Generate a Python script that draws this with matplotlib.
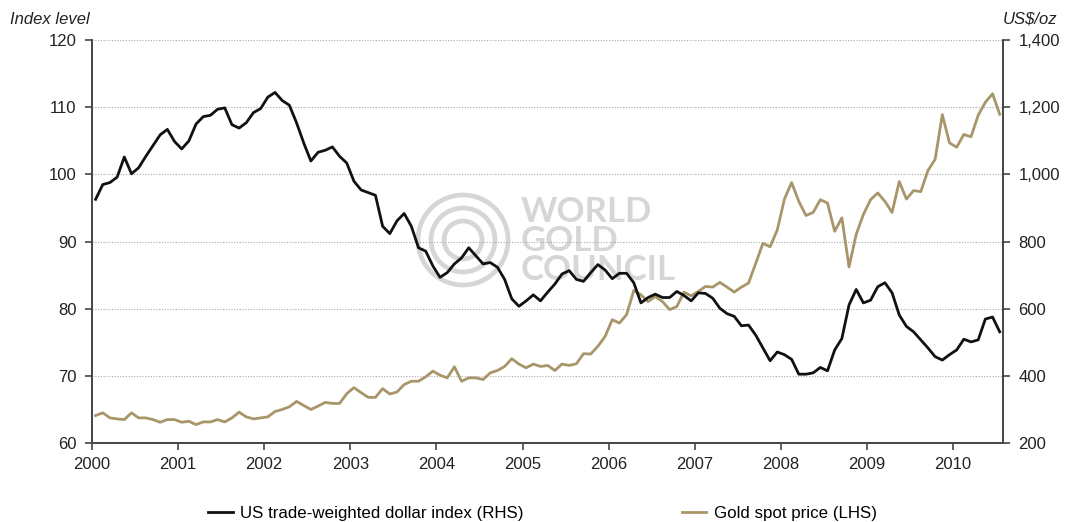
import numpy as np
import matplotlib
matplotlib.use("Agg")
import matplotlib.pyplot as plt
from matplotlib.patches import Ellipse
from matplotlib.ticker import FuncFormatter

plt.rcParams["font.family"] = ["Liberation Sans", "DejaVu Sans"]

# Monthly values, Jan 2000 - Jul 2010
dollar_index = [
    96.3, 98.5, 98.8, 99.6, 102.6, 100.1, 101.0, 102.7, 104.3, 105.9, 106.7, 104.9,  # 2000
    103.8, 105.0, 107.5, 108.6, 108.8, 109.7, 109.9, 107.4, 106.9, 107.7, 109.2, 109.8,  # 2001
    111.5, 112.2, 111.0, 110.3, 107.7, 104.7, 102.0, 103.3, 103.6, 104.1, 102.7, 101.7,  # 2002
    99.0, 97.7, 97.3, 96.9, 92.3, 91.2, 93.1, 94.2, 92.3, 89.1, 88.6, 86.4,  # 2003
    84.7, 85.4, 86.7, 87.6, 89.1, 87.9, 86.7, 86.9, 86.2, 84.4, 81.5, 80.4,  # 2004
    81.2, 82.1, 81.2, 82.5, 83.7, 85.2, 85.7, 84.4, 84.1, 85.4, 86.6, 85.8,  # 2005
    84.5, 85.3, 85.3, 83.9, 80.9, 81.7, 82.2, 81.7, 81.7, 82.6, 82.0, 81.2,  # 2006
    82.4, 82.3, 81.6, 80.1, 79.3, 78.9, 77.5, 77.6, 76.1, 74.2, 72.3, 73.6,  # 2007
    73.2, 72.5, 70.3, 70.3, 70.5, 71.3, 70.8, 73.9, 75.6, 80.6, 82.9, 80.9,  # 2008
    81.3, 83.3, 83.9, 82.4, 79.1, 77.4, 76.6, 75.4, 74.2, 72.9, 72.4, 73.2,  # 2009
    73.9, 75.5, 75.1, 75.4, 78.5, 78.8, 76.6,  # 2010
]

gold_price = [
    283, 291, 276, 273, 271, 291, 276, 276, 271, 263, 271, 271,  # 2000
    263, 266, 256, 264, 264, 271, 264, 276, 293, 279, 273, 276,  # 2001
    279, 295, 301, 309, 325, 313, 301, 311, 322, 319, 319, 348,  # 2002
    366, 351, 337, 337, 363, 347, 353, 375, 385, 385, 398, 415,  # 2003
    403, 395, 428, 385, 395, 395, 390, 410, 417, 429, 452, 436,  # 2004
    425, 436, 429, 432, 417, 436, 432, 437, 467, 466, 489, 518,  # 2005
    568, 558, 583, 655, 642, 622, 637, 622, 598, 607, 650, 639,  # 2006
    652, 667, 665, 679, 665, 650, 665, 677, 736, 795, 785, 835,  # 2007
    927, 976, 920, 878, 887, 925, 915, 831, 871, 725, 822, 881,  # 2008
    925, 945, 920, 887, 979, 927, 952, 949, 1012, 1045, 1178, 1094,  # 2009
    1081, 1119, 1112, 1176, 1215, 1240, 1179,  # 2010
]

years = list(range(2000, 2011))
left_ticks = [60, 70, 80, 90, 100, 110, 120]
right_ticks = [200, 400, 600, 800, 1000, 1200, 1400]

# mid-month positions
x = 2000 + (np.arange(len(dollar_index)) + 0.5) / 12

BLACK = "#111111"
GOLD = "#a8956a"
SPINE = "#444444"
FS = 12

fig = plt.figure(figsize=(10.7, 5.22), dpi=100)
ax2 = fig.add_axes([0.086, 0.1505, 0.8514, 0.7729])
ax = ax2.twinx()
ax2.yaxis.tick_right()
ax2.yaxis.set_label_position("right")
ax.yaxis.tick_left()
ax.yaxis.set_label_position("left")
ax.set_zorder(ax2.get_zorder() + 1)
ax.patch.set_visible(False)

ax2.plot(x, gold_price, color=GOLD, lw=2.0, label="Gold spot price (LHS)")
ax.plot(x, dollar_index, color=BLACK, lw=2.0,
        label="US trade-weighted dollar index (RHS)")

ax.set_xlim(2000, 2010.58)
ax.set_ylim(60, 120)
ax2.set_ylim(200, 1400)
ax.set_yticks(left_ticks)
ax2.set_yticks(right_ticks)
ax2.set_xticks(years)
ax2.yaxis.set_major_formatter(FuncFormatter(lambda v, p: f"{v:,.0f}"))

ax2.grid(axis="y", color="#aaaaaa", ls=(0, (1, 1.5)), lw=0.8)
ax2.set_axisbelow(True)

for a in (ax, ax2):
    a.spines["top"].set_visible(False)
    for s in ("left", "right", "bottom"):
        a.spines[s].set_color(SPINE)
        a.spines[s].set_linewidth(1.2)
    a.tick_params(colors=SPINE, labelcolor="#222222", labelsize=FS,
                  length=5, width=1.2, direction="out")
ax.tick_params(axis="y", pad=6)
ax2.tick_params(axis="y", pad=6)
ax2.tick_params(axis="x", pad=5)
ax.tick_params(axis="x", bottom=False, labelbottom=False)

fig.text(0.009, 0.963, "Index level", fontsize=FS, style="italic",
         color="#222222", ha="left", va="center")
fig.text(0.988, 0.963, "US$/oz", fontsize=FS, style="italic",
         color="#222222", ha="right", va="center")

# watermark
wm = "#d6d6d6"
cx, cy = 463, 240
for r in (45, 32, 19):
    e = Ellipse((cx / 1070, 1 - cy / 522), 2 * r / 1070, 2 * r / 522,
                transform=fig.transFigure, fill=False, ec=wm, lw=3.4, zorder=0.5)
    ax2.add_artist(e)
for txt, ty in (("WORLD", 212), ("GOLD", 241), ("COUNCIL", 270)):
    ax2.text(521 / 1070, 1 - ty / 522, txt, transform=fig.transFigure,
             fontsize=25, color=wm, ha="left", va="center", weight="bold",
             family=["Lato", "DejaVu Sans"], zorder=0.5)

h1, l1 = ax.get_legend_handles_labels()
h2, l2 = ax2.get_legend_handles_labels()
fig.legend(h1 + h2, l1 + l2, loc="center", bbox_to_anchor=(0.507, 0.017),
           ncol=2, frameon=False, fontsize=12.2, handlelength=1.45,
           handletextpad=0.45, columnspacing=9.3)

fig.savefig("out.png", dpi=100)
